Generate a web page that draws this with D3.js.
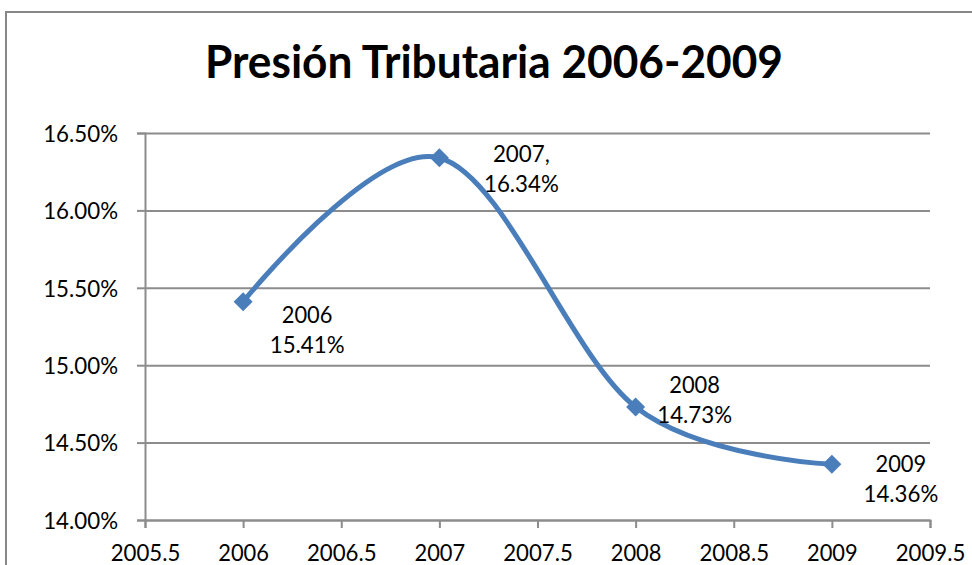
<!DOCTYPE html>
<html>
<head>
<meta charset="utf-8">
<script src="https://cdn.jsdelivr.net/npm/d3@7"></script>
<style>
  html, body { margin: 0; padding: 0; background: #fff; }
  svg { display: block; }
</style>
</head>
<body>
<svg id="chart" width="972" height="565"></svg>
<script>
// ---- data ----
const years = [2006, 2007, 2008, 2009];
const values = [15.41, 16.34, 14.73, 14.36];
const labelYears = ["2006", "2007,", "2008", "2009"];
const labelValues = ["15.41%", "16.34%", "14.73%", "14.36%"];
const xTicks = [2005.5, 2006, 2006.5, 2007, 2007.5, 2008, 2008.5, 2009, 2009.5];
const xTickLabels = ["2005.5", "2006", "2006.5", "2007", "2007.5", "2008", "2008.5", "2009", "2009.5"];
const yTicks = [14.0, 14.5, 15.0, 15.5, 16.0, 16.5];
const yTickLabels = ["14.00%", "14.50%", "15.00%", "15.50%", "16.00%", "16.50%"];
const titleText = "Presión Tributaria 2006-2009";

// ---- layout ----
const labelOffsets = [[64, 21], [82, 4], [59, -14], [69, 8]];
const lineGap = 30;
const gridColor = "#8c8c8c";
const lineColor = "#4a7ebb";
const font = "Lato, 'Open Sans', sans-serif";
const fontSize = 23;
// approximate advance widths (em) of the condensed original face
const adv = { ".": 0.252, ",": 0.25, "%": 0.714 };
const emWidth = 25;
function targetWidth(s) {
  let w = 0;
  for (const c of s) w += (adv[c] !== undefined ? adv[c] : 0.507);
  return w * emWidth;
}
function condense(sel) {
  sel.each(function() {
    const t = d3.select(this);
    t.attr("textLength", targetWidth(t.text())).attr("lengthAdjust", "spacingAndGlyphs");
  });
}

const svg = d3.select("#chart");
const x = d3.scaleLinear().domain([2005.5, 2009.5]).range([145, 930]);
const y = d3.scaleLinear().domain([14, 16.5]).range([520, 133]);

// outer border (left + top)
svg.append("path")
  .attr("d", "M6,566 L6,12 L972,12")
  .attr("fill", "none").attr("stroke", "#878787").attr("stroke-width", 2);

// title
svg.append("text")
  .attr("x", 494).attr("y", 78)
  .attr("text-anchor", "middle")
  .attr("font-family", font).attr("font-weight", "bold")
  .attr("font-size", 45)
  .attr("textLength", 578).attr("lengthAdjust", "spacingAndGlyphs")
  .attr("fill", "#000")
  .text(titleText);

// y axis with gridlines
const yAxis = d3.axisLeft(y).tickValues(yTicks)
  .tickSize(8)
  .tickFormat((d, i) => yTickLabels[i]);
const gy = svg.append("g").attr("transform", "translate(145,0)").call(yAxis);
gy.select(".domain").attr("stroke", gridColor).attr("stroke-width", 2);
gy.selectAll(".tick line").attr("stroke", gridColor).attr("stroke-width", 2);
gy.selectAll(".tick").append("line")
  .attr("x1", 0).attr("x2", x(2009.5) - 145)
  .attr("stroke", gridColor).attr("stroke-width", 2);
gy.selectAll(".tick text")
  .attr("x", -27).attr("dy", "0.36em")
  .attr("font-family", font).attr("font-size", fontSize).attr("fill", "#000")
  .call(condense);

// x axis
const xAxis = d3.axisBottom(x).tickValues(xTicks)
  .tickSize(8)
  .tickFormat((d, i) => xTickLabels[i]);
const gx = svg.append("g").attr("transform", "translate(0,520)").call(xAxis);
gx.select(".domain").attr("stroke", gridColor).attr("stroke-width", 2);
gx.selectAll(".tick line").attr("stroke", gridColor).attr("stroke-width", 2);
gx.selectAll(".tick text")
  .attr("y", 25).attr("dy", "0.71em")
  .attr("font-family", font).attr("font-size", fontSize).attr("fill", "#000")
  .call(condense);

// smoothed line
const pts = years.map((yr, i) => [yr, values[i]]);
const line = d3.line()
  .x(d => x(d[0])).y(d => y(d[1]))
  .curve(d3.curveCardinal.tension(0));
svg.append("path")
  .datum(pts)
  .attr("d", line)
  .attr("fill", "none")
  .attr("stroke", lineColor)
  .attr("stroke-width", 5)
  .attr("stroke-linecap", "round");

// diamond markers (square rotated 45°)
svg.selectAll(".marker").data(pts).enter().append("path")
  .attr("class", "marker")
  .attr("transform", d => `translate(${x(d[0])},${y(d[1])}) rotate(45)`)
  .attr("d", d3.symbol().type(d3.symbolSquare).size(180))
  .attr("fill", lineColor);

// data labels
const lg = svg.selectAll(".dlabel").data(pts).enter().append("g")
  .attr("class", "dlabel")
  .attr("transform", (d, i) => `translate(${x(d[0]) + labelOffsets[i][0]},${y(d[1]) + labelOffsets[i][1]})`);
lg.append("text")
  .attr("text-anchor", "middle")
  .attr("font-family", font).attr("font-size", fontSize).attr("fill", "#000")
  .text((d, i) => labelYears[i])
  .call(condense);
lg.append("text")
  .attr("y", lineGap)
  .attr("text-anchor", "middle")
  .attr("font-family", font).attr("font-size", fontSize).attr("fill", "#000")
  .text((d, i) => labelValues[i])
  .call(condense);
</script>
</body>
</html>
